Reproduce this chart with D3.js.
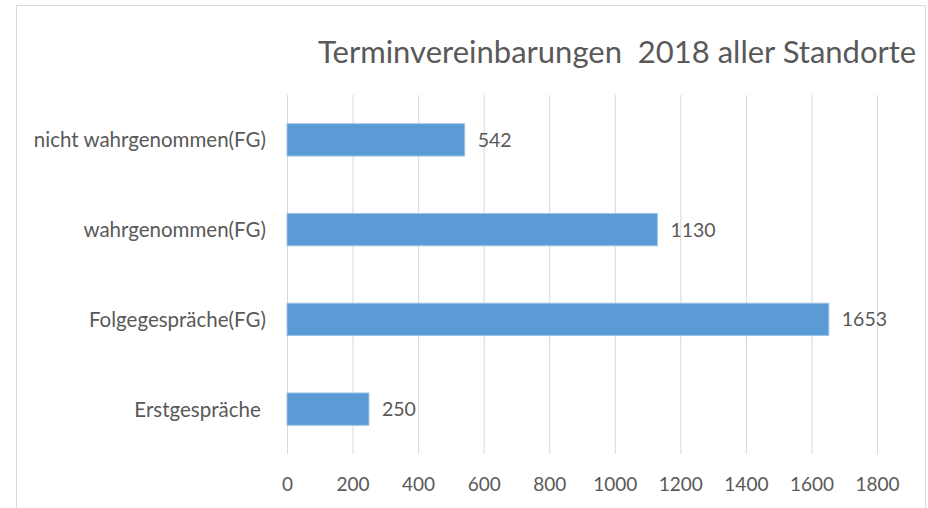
<!DOCTYPE html>
<html>
<head>
<meta charset="utf-8">
<script src="https://cdn.jsdelivr.net/npm/d3@7"></script>
<style>
  html, body { margin: 0; padding: 0; background: #fff; }
  svg { display: block; }
  text { font-family: Lato, "Open Sans", sans-serif; fill: #595959; white-space: pre; }
</style>
</head>
<body>
<svg id="chart" width="928" height="508"></svg>
<script>
const title = "Terminvereinbarungen  2018 aller Standorte";
const categories = ["nicht wahrgenommen(FG)", "wahrgenommen(FG)", "Folgegespräche(FG)", "Erstgespräche "];
const values = [542, 1130, 1653, 250];
const tickValues = [0, 200, 400, 600, 800, 1000, 1200, 1400, 1600, 1800];

const svg = d3.select("#chart");

// outer chart frame
svg.append("rect")
  .attr("x", 16.5).attr("y", 5.5)
  .attr("width", 909).attr("height", 540)
  .attr("fill", "#fff").attr("stroke", "#D9D9D9").attr("stroke-width", 1);

const x = d3.scaleLinear().domain([0, 1800]).range([287, 877]);
const y = d3.scaleBand().domain(categories).range([95, 454]).paddingInner(0.64).paddingOuter(0.32);

// title
svg.append("text")
  .attr("x", 318).attr("y", 63)
  .attr("font-size", 31)
  .attr("xml:space", "preserve")
  .text(title);

// gridlines via axis
const grid = svg.append("g").attr("transform", "translate(0,95)")
  .call(d3.axisBottom(x).tickValues(tickValues).tickSize(454 - 95).tickFormat(""));
grid.select(".domain").remove();
grid.selectAll(".tick line").attr("stroke", "#D9D9D9").attr("stroke-width", 1);

// x axis labels
const xAxis = svg.append("g").attr("transform", "translate(0,454)")
  .call(d3.axisBottom(x).tickValues(tickValues).tickSize(0).tickPadding(0).tickFormat(d3.format("d")));
xAxis.select(".domain").remove();
xAxis.selectAll(".tick text")
  .attr("y", 37).attr("dy", null)
  .attr("font-size", 19)
  .style("font-family", "Lato, sans-serif")
  .attr("fill", "#595959");

// y axis labels
const yAxis = svg.append("g").attr("transform", "translate(266,0)")
  .call(d3.axisLeft(y).tickSize(0).tickPadding(0));
yAxis.select(".domain").remove();
yAxis.selectAll(".tick text")
  .attr("x", 0).attr("dy", "0.36em")
  .attr("font-size", 20.5)
  .attr("xml:space", "preserve")
  .style("font-family", "Lato, sans-serif")
  .attr("fill", "#595959");

// bars
svg.append("g").selectAll("rect")
  .data(categories)
  .join("rect")
  .attr("x", x(0))
  .attr("y", d => y(d))
  .attr("width", (d, i) => x(values[i]) - x(0))
  .attr("height", y.bandwidth())
  .attr("fill", "#5B9BD5")
  .attr("stroke", "#9CC3E6")
  .attr("stroke-width", 1);

// value labels
svg.append("g").selectAll("text")
  .data(categories)
  .join("text")
  .attr("x", (d, i) => x(values[i]) + 13)
  .attr("y", d => y(d) + y.bandwidth() / 2)
  .attr("dy", "0.36em")
  .attr("font-size", 19.5)
  .text((d, i) => values[i]);
</script>
</body>
</html>
